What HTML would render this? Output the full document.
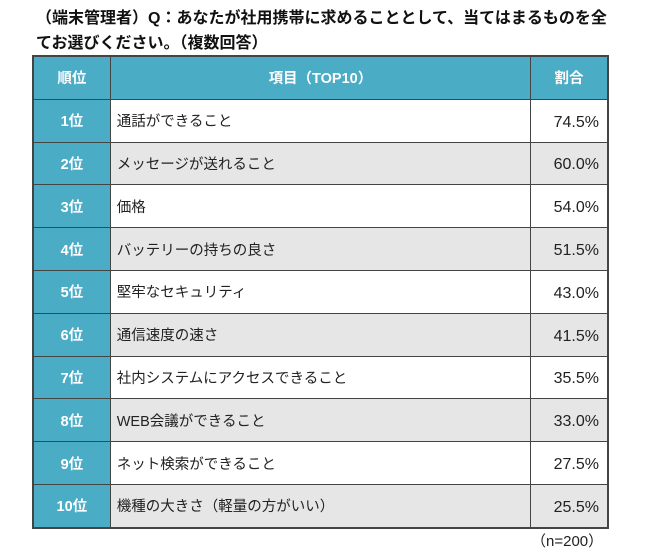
<!DOCTYPE html>
<html><head><meta charset="utf-8"><style>
body{margin:0;width:650px;height:556px;background:#fff;font-family:"Liberation Sans","Noto Sans CJK JP",sans-serif;position:relative;overflow:hidden}
.title{position:absolute;left:36px;top:6px;font-size:16px;font-weight:bold;line-height:25px;color:#111;width:614px;white-space:nowrap}
table{position:absolute;left:32px;top:55px;border-collapse:collapse;width:577px;border:2px solid #444}
td,th{border:1px solid #444;height:41.8px;padding:0;font-size:14.5px;color:#222;vertical-align:middle}
th{background:#4BACC6;color:#fff;font-weight:bold}
td.r{background:#4BACC6;color:#fff;font-weight:bold;text-align:center;width:76px}
td.i{padding-left:6px;width:415px}
td.p{text-align:right;padding-right:8px;font-size:16px}
td.p span{position:relative;top:2px}
tr.g td.i,tr.g td.p{background:#e6e6e6}
.n{position:absolute;left:531px;top:530px;font-size:15px;color:#222}
</style></head><body>
<div class="title">（端末管理者）Q：あなたが社用携帯に求めることとして、当てはまるものを全<br>てお選びください。（複数回答）</div>
<table>
<tr><th style="width:76px">順位</th><th>項目（TOP10）</th><th style="width:76px">割合</th></tr>
<tr><td class="r">1位</td><td class="i">通話ができること</td><td class="p"><span>74.5%</span></td></tr>
<tr class="g"><td class="r">2位</td><td class="i">メッセージが送れること</td><td class="p"><span>60.0%</span></td></tr>
<tr><td class="r">3位</td><td class="i">価格</td><td class="p"><span>54.0%</span></td></tr>
<tr class="g"><td class="r">4位</td><td class="i">バッテリーの持ちの良さ</td><td class="p"><span>51.5%</span></td></tr>
<tr><td class="r">5位</td><td class="i">堅牢なセキュリティ</td><td class="p"><span>43.0%</span></td></tr>
<tr class="g"><td class="r">6位</td><td class="i">通信速度の速さ</td><td class="p"><span>41.5%</span></td></tr>
<tr><td class="r">7位</td><td class="i">社内システムにアクセスできること</td><td class="p"><span>35.5%</span></td></tr>
<tr class="g"><td class="r">8位</td><td class="i">WEB会議ができること</td><td class="p"><span>33.0%</span></td></tr>
<tr><td class="r">9位</td><td class="i">ネット検索ができること</td><td class="p"><span>27.5%</span></td></tr>
<tr class="g"><td class="r">10位</td><td class="i">機種の大きさ（軽量の方がいい）</td><td class="p"><span>25.5%</span></td></tr>
</table>
<div class="n">（n=200）</div>
</body></html>
